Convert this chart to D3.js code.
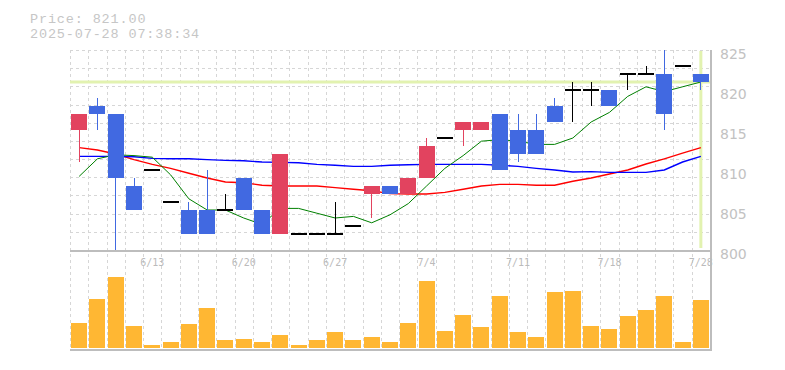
<!DOCTYPE html>
<html>
<head>
<meta charset="utf-8">
<script src="https://cdn.jsdelivr.net/npm/d3@7"></script>
<style>
  html, body { margin: 0; padding: 0; background: #ffffff; }
  svg { display: block; }
</style>
</head>
<body>
<svg id="chart" width="785" height="370"></svg>
<script>
// ---- data ----
const dates = ["6/9","6/10","6/11","6/12","6/13","6/16","6/17","6/18","6/19","6/20",
  "6/23","6/24","6/25","6/26","6/27","6/30","7/1","7/2","7/3","7/4",
  "7/7","7/8","7/9","7/10","7/11","7/14","7/15","7/16","7/17","7/18",
  "7/22","7/23","7/24","7/25","7/28"];
const openP  = [815,818,817,808,810,806,805,805,805,809,805,802,802,802,802,803,807,808,807,809,814,815,815,817,815,815,818,820,820,820,822,822,822,823,822];
const highP  = [817,819,817,809,810,806,806,810,807,809,805,812,802,802,806,803,808,808,809,814,814,816,816,817,817,817,819,821,821,820,822,823,825,823,822];
const lowP   = [811,815,800,805,810,806,802,802,805,805,802,802,802,802,802,803,804,807,807,809,814,813,815,810,811,812,816,816,818,818,820,822,815,823,820];
const closeP = [817,817,809,805,810,806,802,802,805,805,802,812,802,802,802,803,808,807,809,813,814,816,816,810,812,812,816,820,820,818,822,822,817,823,821];
const volume = [2530,4900,7130,2200,300,630,2430,4030,830,900,630,1300,300,830,1630,830,1130,630,2530,6730,1730,3300,2130,5230,1630,1130,5630,5730,2230,1930,3230,3800,5230,630,4830];
const maShort = [809.2,811.4,811.9,811.8,811.6,809.4,806.4,805.0,805.0,804.0,803.2,805.2,805.2,804.6,804.0,804.2,803.4,804.4,805.8,808.0,810.2,811.8,813.6,813.8,813.6,813.2,813.2,814.0,816.0,817.2,819.2,820.4,819.8,820.4,821.0];
const maMid   = [812.8,812.5,812.0,811.3,810.7,810.2,809.6,809.0,808.5,808.4,808.1,808.0,808.0,808.0,807.8,807.6,807.4,807.05,807.0,807.0,807.2,807.6,808.0,808.2,808.2,808.1,808.1,808.6,809.0,809.5,810.0,810.75,811.4,812.1,812.8];
const maLong  = [811.7,811.7,811.7,811.65,811.45,811.4,811.4,811.3,811.2,811.15,811.0,810.95,810.9,810.7,810.6,810.45,810.45,810.6,810.65,810.7,810.7,810.7,810.7,810.6,810.45,810.2,810.0,809.75,809.8,809.7,809.7,809.7,810.0,811.0,811.7];
const xTickLabels = ["6/13","6/20","6/27","7/4","7/11","7/18","7/28"];
const yTickValues = [800,805,810,815,820,825];
const currentPrice = 821.00;
const headerLines = ["Price: 821.00", "2025-07-28 07:38:34"];

// ---- layout ----
const L = 70, R = 710, pTop = 50, pBot = 250, vTop = 248, vBot = 348, vAxis = 349.5;
const svg = d3.select("#chart");

const x = d3.scaleBand().domain(dates).range([L, R]).paddingInner(0.125).paddingOuter(0.0625);
const slot = d3.scaleLinear().domain([0, dates.length]).range([L, R]);
const y = d3.scaleLinear().domain([800, 825]).range([pBot, pTop]);
const yv = d3.scaleLinear().domain([0, 10000]).range([vBot, vTop]);
const cx = d => x(d) + x.bandwidth() / 2;

// header text
svg.selectAll("text.hdr").data(headerLines).join("text")
  .attr("class", "hdr")
  .attr("x", 30).attr("y", (d, i) => 22.5 + i * 15.5)
  .attr("font-family", "'Liberation Mono', 'DejaVu Sans Mono', monospace")
  .attr("font-size", 13.5).attr("letter-spacing", 0.85).attr("fill", "#c6c6c6")
  .text(d => d);

// grid
const grid = svg.append("g").attr("stroke", "#d6d6d6").attr("stroke-dasharray", "3,3")
  .attr("shape-rendering", "crispEdges");
const hGrid = d3.range(0, 11).map(k => 825 - k * 25 / 11);
grid.selectAll("line.h").data(hGrid).join("line")
  .attr("x1", L).attr("x2", R).attr("y1", d => Math.round(y(d)) + 0.5).attr("y2", d => Math.round(y(d)) + 0.5);
grid.selectAll("line.v").data(d3.range(0, dates.length)).join("line")
  .attr("x1", d => Math.round(slot(d)) + 0.5).attr("x2", d => Math.round(slot(d)) + 0.5)
  .attr("y1", pTop).attr("y2", vAxis);

// current price highlight lines
const hl = "#e2f2b0";
svg.append("line").attr("x1", L).attr("x2", R).attr("y1", y(currentPrice)).attr("y2", y(currentPrice))
  .attr("stroke", hl).attr("stroke-width", 3);
svg.append("line").attr("x1", cx(dates[dates.length - 1])).attr("x2", cx(dates[dates.length - 1]))
  .attr("y1", pTop + 1).attr("y2", pBot - 2).attr("stroke", hl).attr("stroke-width", 3);

// moving average lines
const line = arr => d3.line().x((d, i) => cx(dates[i])).y(d => y(d))(arr);
[[maMid, "#ff0000", 1.4], [maLong, "#0000ff", 1.4], [maShort, "#008000", 1]].forEach(([arr, c, w]) => {
  svg.append("path").attr("d", line(arr)).attr("fill", "none").attr("stroke", c).attr("stroke-width", w);
});

// candles
const upC = "#e2435f", downC = "#4169e1", flatC = "#000000";
const colorOf = i => closeP[i] > openP[i] ? upC : (closeP[i] < openP[i] ? downC : flatC);
const cg = svg.append("g").attr("shape-rendering", "crispEdges");
dates.forEach((d, i) => {
  const c = colorOf(i);
  const xm = Math.floor(cx(d)) + 0.5;
  if (highP[i] !== lowP[i]) {
    cg.append("line").attr("x1", xm).attr("x2", xm).attr("y1", y(highP[i])).attr("y2", y(lowP[i]))
      .attr("stroke", c).attr("stroke-width", 1.2);
  }
  if (openP[i] === closeP[i]) {
    cg.append("line").attr("x1", x(d)).attr("x2", x(d) + x.bandwidth())
      .attr("y1", y(openP[i])).attr("y2", y(openP[i])).attr("stroke", flatC).attr("stroke-width", 1.5);
  } else {
    const top = y(Math.max(openP[i], closeP[i])), bot = y(Math.min(openP[i], closeP[i]));
    cg.append("rect").attr("x", x(d)).attr("width", x.bandwidth())
      .attr("y", top).attr("height", bot - top).attr("fill", c);
  }
});

// volume bars
svg.append("g").attr("shape-rendering", "crispEdges").selectAll("rect").data(volume).join("rect")
  .attr("x", (d, i) => x(dates[i])).attr("width", x.bandwidth())
  .attr("y", d => yv(d)).attr("height", d => vBot - yv(d)).attr("fill", "#ffb733");

// borders
const bc = "#bdbdbd";
const bg = svg.append("g").attr("stroke", bc).attr("shape-rendering", "crispEdges");
bg.append("line").attr("x1", L).attr("x2", R + 1).attr("y1", pBot + 0.5).attr("y2", pBot + 0.5).attr("stroke-width", 2);
bg.append("line").attr("x1", L).attr("x2", R + 1).attr("y1", vAxis + 0.5).attr("y2", vAxis + 0.5).attr("stroke-width", 2);
bg.append("line").attr("x1", R + 0.5).attr("x2", R + 0.5).attr("y1", pTop).attr("y2", vAxis + 1).attr("stroke-width", 2);

// y axis (right)
const yAxis = d3.axisRight(y).tickValues(yTickValues).tickSize(0).tickPadding(10).tickFormat(d3.format("d"));
const ya = svg.append("g").attr("transform", `translate(${R},0)`).call(yAxis);
ya.select(".domain").remove();
ya.selectAll("text").attr("font-family", "'DejaVu Sans', Verdana, sans-serif").attr("font-size", 14)
  .attr("fill", "#c2c2c2").attr("dy", "0.58em");

// x axis labels
const xAxis = d3.axisBottom(x).tickValues(xTickLabels).tickSize(0).tickPadding(9);
const xa = svg.append("g").attr("transform", `translate(0,${pBot})`).call(xAxis);
xa.select(".domain").remove();
xa.selectAll("text").attr("font-family", "'DejaVu Sans Mono', monospace").attr("font-size", 10)
  .attr("fill", "#bbbbbb");
</script>
</body>
</html>
